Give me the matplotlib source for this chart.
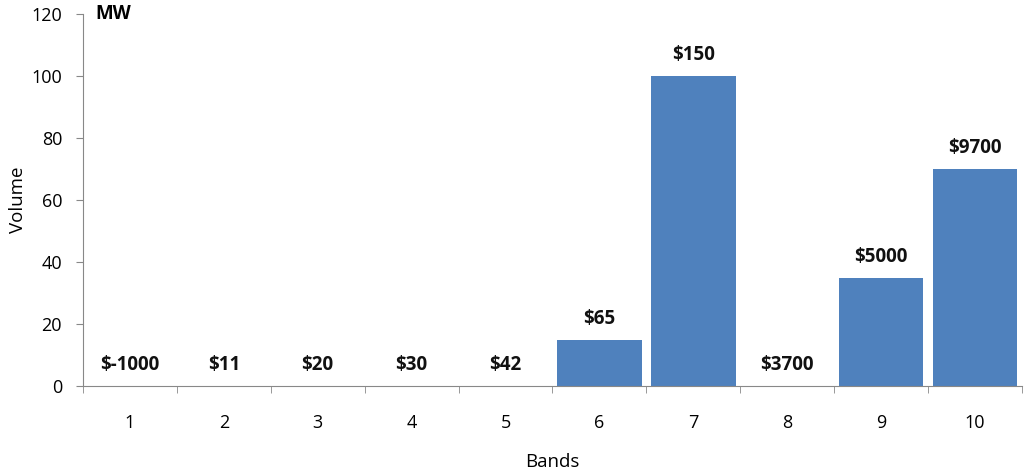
import matplotlib.pyplot as plt

plt.rcParams['font.family'] = ['Open Sans', 'DejaVu Sans']

bands = [1, 2, 3, 4, 5, 6, 7, 8, 9, 10]
volume = [0, 0, 0, 0, 0, 15, 100, 0, 35, 70]
prices = ["$-1000", "$11", "$20", "$30", "$42", "$65", "$150", "$3700", "$5000", "$9700"]

fig = plt.figure(figsize=(10.36, 4.75), dpi=100)
ax = fig.add_axes([0.080, 0.187, 0.9065, 0.7835])

x = range(len(bands))
ax.bar(x, volume, width=0.9, color="#4f81bd")
for i, v in enumerate(volume):
    ax.annotate(prices[i], (i, v), xytext=(0, 15), textcoords="offset points",
                ha="center", va="center", fontsize=13.5, fontweight="bold", color="#111111")

ax.set_xlim(-0.5, len(bands) - 0.5)
ax.set_ylim(0, 120)
ax.set_yticks(range(0, 121, 20))
ax.set_xticks(x)
ax.set_xticklabels([str(b) for b in bands])
ax.set_xticks([i - 0.5 for i in range(len(bands) + 1)], minor=True)
ax.tick_params(axis="x", which="major", length=0, pad=20, labelsize=13)
ax.tick_params(axis="x", which="minor", length=5, color="#888888")
ax.tick_params(axis="y", length=5, color="#888888", labelsize=13, pad=10)
for s in ["top", "right"]:
    ax.spines[s].set_visible(False)
for s in ["left", "bottom"]:
    ax.spines[s].set_color("#888888")
ax.set_xlabel("Bands", fontsize=13.5, labelpad=15)
ax.set_ylabel("Volume", fontsize=13.5, labelpad=3)
ax.text(0.013, 1.0, "MW", transform=ax.transAxes, fontsize=13.5, fontweight="bold",
        ha="left", va="center")

plt.savefig("out.png", dpi=100)
